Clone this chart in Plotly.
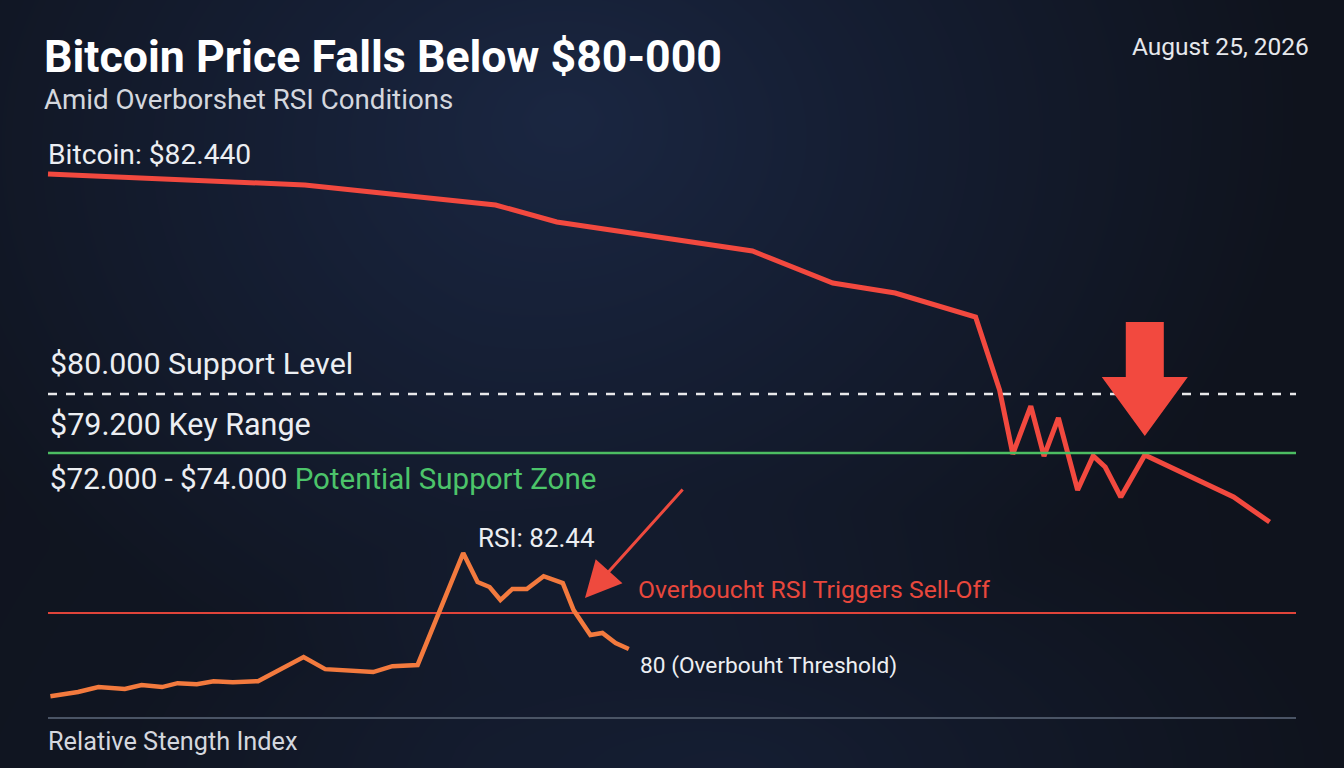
import numpy as np
import plotly.graph_objects as go

# ---------------- data ----------------
# price series (x = session index, y = USD)
price_x = [0, 21.4, 37.3, 42.4, 58.7, 65.4, 70.6, 77.3, 79.3, 80.4, 81.9, 83.0,
           84.2, 85.8, 87.1, 88.1, 89.4, 91.4, 98.8, 101.8]
price_y = [82983, 82834, 82563, 82332, 81939, 81505, 81369, 81044, 80054, 79186,
           79837, 79159, 79675, 78698, 79159, 79010, 78603, 79173, 78603, 78264]

# RSI series
rsi_x = [0.2, 2.5, 4.2, 6.4, 7.8, 9.5, 10.8, 12.4, 13.8, 15.4, 17.5, 19.6, 21.3,
         23.1, 25.0, 27.1, 28.7, 30.8, 34.6, 35.8, 36.8, 37.7, 38.7, 39.9, 41.3,
         42.9, 43.8, 45.2, 46.2, 47.3, 48.4]
rsi_y = [76.62, 76.79, 76.99, 76.91, 77.07, 76.99, 77.15, 77.11, 77.23, 77.19,
         77.23, 77.76, 78.21, 77.72, 77.68, 77.60, 77.84, 77.89, 82.44, 81.26,
         81.06, 80.53, 80.98, 80.98, 81.50, 81.22, 80.12, 79.11, 79.19, 78.78, 78.54]

support_level = 80000
key_range = 79200
rsi_threshold = 80
rsi_baseline = 75.73
level_x = [0, 104]

peak_index = 17  # local rebound marked by the big arrow

# axis ranges chosen so the chart fills the canvas
X_RANGE = [-4, 108]
Y_RANGE = [74928.8, 85342.4]
Y2_RANGE = [73.70, 104.93]

# ---------------- styling helpers ----------------
W, H = 1344, 768
def px(x):
    return x / W
def py(y):
    return 1 - y / H

RED = "#f2493f"
ORANGE = "#f37a3e"
GREEN = "#4cbd62"
FONT = "Roboto"

fig = go.Figure()

# background gradient (decorative only)
gu = np.linspace(0, 1, 60)
gv = np.linspace(0, 1, 40)
GU, GV = np.meshgrid(gu, gv)
d = np.sqrt(((GU - 0.42) / 0.55) ** 2 + ((GV - 0.85) / 0.75) ** 2)
d2 = np.sqrt(((GU - 0.55) / 0.45) ** 2 + ((GV - 0.0) / 0.35) ** 2)
bg = (np.clip(1 - d, 0, 1) * 0.8
      + np.clip(1 - np.abs(GU - 0.35) / 0.6, 0, 1) * 0.2 * (1 - GV)
      + np.clip(1 - d2, 0, 1) * 0.35)
fig.add_trace(go.Heatmap(
    x=X_RANGE[0] + gu * (X_RANGE[1] - X_RANGE[0]),
    y=Y_RANGE[0] + gv * (Y_RANGE[1] - Y_RANGE[0]),
    z=bg, zsmooth="best", showscale=False, zmin=0, zmax=1,
    colorscale=[[0, "#0f131d"], [0.5, "#151e33"], [1, "#1d2b49"]], hoverinfo="skip"))

# level lines and series
fig.add_trace(go.Scatter(x=level_x, y=[support_level] * 2, mode="lines",
                         line=dict(color="#e8e8ea", width=2.5, dash="dash"), hoverinfo="skip"))
fig.add_trace(go.Scatter(x=price_x, y=price_y, mode="lines",
                         line=dict(color=RED, width=5), hoverinfo="skip"))
fig.add_trace(go.Scatter(x=level_x, y=[key_range] * 2, mode="lines",
                         line=dict(color=GREEN, width=2.5), hoverinfo="skip"))
fig.add_trace(go.Scatter(x=level_x, y=[rsi_threshold] * 2, mode="lines", yaxis="y2",
                         line=dict(color="#e0443a", width=2), hoverinfo="skip"))
fig.add_trace(go.Scatter(x=level_x, y=[rsi_baseline] * 2, mode="lines", yaxis="y2",
                         line=dict(color="#4a5465", width=2), hoverinfo="skip"))
fig.add_trace(go.Scatter(x=rsi_x, y=rsi_y, mode="lines", yaxis="y2",
                         line=dict(color=ORANGE, width=4.5), hoverinfo="skip"))

# big down arrow anchored above the rebound point
fig.add_shape(type="path", xref="x", yref="y", xsizemode="pixel", ysizemode="pixel",
              xanchor=price_x[peak_index], yanchor=price_y[peak_index],
              path="M -19,133 L 19,133 L 19,78 L 43,78 L 0,19 L -43,78 L -19,78 Z",
              fillcolor=RED, line=dict(width=0))

ann = []
def text(x, y, s, size, color="#ffffff", xanchor="left", weight="normal"):
    ann.append(dict(x=px(x), y=py(y), xref="paper", yref="paper", text=s, showarrow=False,
                    xanchor=xanchor, yanchor="middle",
                    font=dict(family=FONT, size=size, color=color, weight=weight)))

text(42, 57, "Bitcoin Price Falls Below $80-000", 44.7, "#ffffff", weight="bold")
text(42, 99, "Amid Overborshet RSI Conditions", 27.7, "#d4d7de")
text(1311, 47, "August 25, 2026", 24.5, "#e6e8ec", xanchor="right")
text(46, 154, "Bitcoin: $82.440", 28.2, "#eceef2")
text(48, 364, "$80.000 Support Level", 30.4, "#eceef2")
text(48, 424, "$79.200 Key Range", 30.5, "#eceef2")
text(48, 479, "$72.000 - $74.000 <span style='color:#4cc46a'>Potential Support Zone</span>", 29.5, "#eceef2")
text(536, 538, "RSI: 82.44", 26, "#eceef2", xanchor="center")
text(636, 589, "Overboucht RSI Triggers Sell-Off", 24.7, "#e8473c")
text(638, 665, "80 (Overbouht Threshold)", 22.7, "#eceef2")
text(46, 741, "Relative Stength Index", 25.3, "#d4d7de")

# thin annotation arrow pointing at the RSI reversal
ann.append(dict(x=44.75, y=80.61, xref="x", yref="y2", ax=99, ay=-110, text="",
                showarrow=True, arrowhead=2, arrowsize=2.4, arrowwidth=3, arrowcolor="#ee4a3e"))

fig.update_layout(
    width=W, height=H, margin=dict(l=0, r=0, t=0, b=0),
    paper_bgcolor="#111726", plot_bgcolor="rgba(0,0,0,0)",
    showlegend=False, annotations=ann,
    xaxis=dict(range=X_RANGE, visible=False),
    yaxis=dict(range=Y_RANGE, visible=False),
    yaxis2=dict(range=Y2_RANGE, visible=False, overlaying="y"),
)

fig.write_html("out.html", config={"displayModeBar": False},
               post_script="document.body.style.margin='0';document.body.style.overflow='hidden';")
